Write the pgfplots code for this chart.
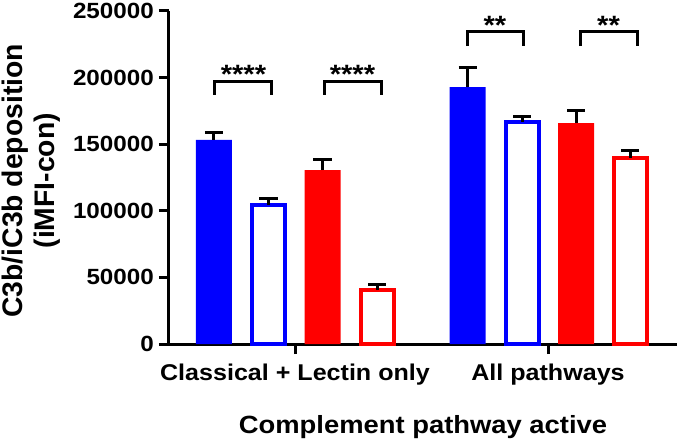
\documentclass[border=0pt]{standalone}
\usepackage{fontspec}
\setmainfont{Liberation Sans}
\newfontfamily\wide{Liberation Sans}[FakeStretch=1.1]
\usepackage{pgfplots}
\pgfplotsset{compat=1.18}
\definecolor{pblue}{RGB}{0,0,255}
\definecolor{pred}{RGB}{255,0,0}
\begin{document}
\begin{tikzpicture}
\begin{axis}[
  scale only axis,
  width=508bp, height=333bp,
  xmin=0, xmax=508,
  ymin=0, ymax=250000,
  axis x line*=bottom, axis y line*=left,
  axis line style={line width=3bp, black},
  ytick={0,50000,100000,150000,200000,250000},
  yticklabels={0,50000,100000,150000,200000,250000},
  scaled y ticks=false,
  xtick={126,379},
  xticklabels={Classical + Lectin only, All pathways},
  tick style={line width=3bp, black},
  major tick length=10bp,
  tick align=outside,
  yticklabel style={font=\wide\bfseries\fontsize{22bp}{26bp}\selectfont, inner sep=0pt, xshift=-5bp},
  xticklabel style={font=\wide\bfseries\fontsize{22.8bp}{28bp}\selectfont, inner sep=0pt, anchor=north, yshift=-10bp},
  xlabel={Complement pathway active},
  xlabel style={font=\wide\bfseries\fontsize{24.9bp}{30bp}\selectfont, at={(axis description cs:0.5,-0.2673)}, anchor=base, inner sep=0pt},
  ylabel={C3b/iC3b deposition\\(iMFI-con)},
  ylabel style={font=\bfseries\fontsize{28.3bp}{32bp}\selectfont, align=center, at={(axis description cs:-0.2717,0.49)}, anchor=center, inner sep=0pt},
  error bars/error bar style={line width=3bp, black},
  error bars/error mark options={line width=3bp, mark size=9bp, black, rotate=90},
  clip=false,
]
% blue filled
\addplot[ybar, bar shift=0pt, bar width=36, fill=pblue, draw=none,
  error bars/.cd, y dir=plus, y explicit]
  coordinates {(45,153200) +- (0,5600) (298.5,192900) +- (0,14700)};
% blue open
\addplot[ybar, bar shift=0pt, bar width=33, fill=white, draw=pblue, line width=4bp,
  error bars/.cd, y dir=plus, y explicit]
  coordinates {(99.5,104400) +- (0,4600) (353,166700) +- (0,4100)};
% red filled
\addplot[ybar, bar shift=0pt, bar width=36, fill=pred, draw=none,
  error bars/.cd, y dir=plus, y explicit]
  coordinates {(153.5,130600) +- (0,7900) (407,165900) +- (0,9400)};
% red open
\addplot[ybar, bar shift=0pt, bar width=33, fill=white, draw=pred, line width=4bp,
  error bars/.cd, y dir=plus, y explicit]
  coordinates {(208,40500) +- (0,4200) (461,139600) +- (0,5700)};
% significance brackets
\draw[line width=3bp] (axis cs:46,187000) -- (axis cs:46,197400) -- (axis cs:103,197400) -- (axis cs:103,187000);
\draw[line width=3bp] (axis cs:155,187000) -- (axis cs:155,197400) -- (axis cs:212,197400) -- (axis cs:212,187000);
\draw[line width=3bp] (axis cs:298,223700) -- (axis cs:298,234600) -- (axis cs:354,234600) -- (axis cs:354,223700);
\draw[line width=3bp] (axis cs:411,223700) -- (axis cs:411,234600) -- (axis cs:468,234600) -- (axis cs:468,223700);
\node[anchor=base, inner sep=0pt, font=\wide\bfseries\fontsize{26.5bp}{30bp}\selectfont] at (axis cs:74.5,195500) {****};
\node[anchor=base, inner sep=0pt, font=\wide\bfseries\fontsize{26.5bp}{30bp}\selectfont] at (axis cs:183.5,195500) {****};
\node[anchor=base, inner sep=0pt, font=\wide\bfseries\fontsize{26.5bp}{30bp}\selectfont] at (axis cs:326,232300) {**};
\node[anchor=base, inner sep=0pt, font=\wide\bfseries\fontsize{26.5bp}{30bp}\selectfont] at (axis cs:439.5,232300) {**};
\coordinate (O) at (rel axis cs:0,0);
\coordinate (NE) at (rel axis cs:1,1);
\end{axis}
\pgfresetboundingbox
\path ([shift={(-169bp,-95bp)}]O) rectangle ([shift={(0bp,11bp)}]NE);
\end{tikzpicture}
\end{document}
